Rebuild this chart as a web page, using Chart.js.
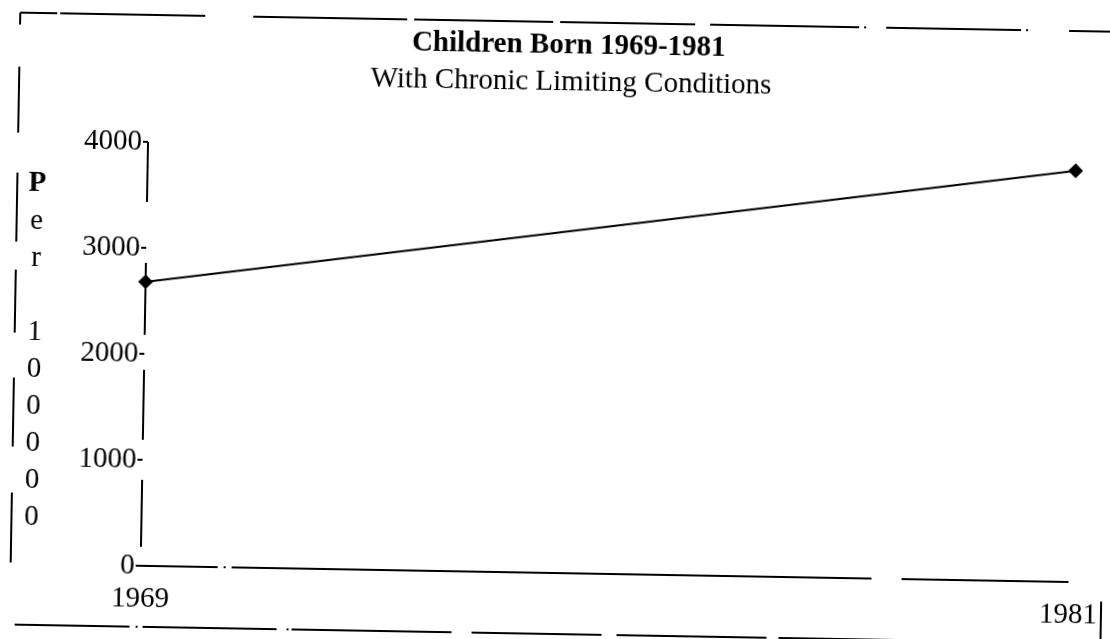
<!DOCTYPE html>
<html>
<head>
<meta charset="utf-8">
<title>Children Born 1969-1981</title>
<script src="https://cdn.jsdelivr.net/npm/chart.js@4.4.1/dist/chart.umd.min.js"></script>
<style>
    html, body { margin: 0; padding: 0; background: #fff; overflow: hidden; }
    #mycanvas { display: block; transform: rotate(1deg); transform-origin: 50% 50%; }
</style>
</head>
<body>
<canvas id="mycanvas" width="1110" height="639"></canvas>
<script>
let years = ["1969", "1981"];
let perHundredThousand = [2680, 3880];
let yTicks = [0, 1000, 2000, 3000, 4000];

let titleText = "Children Born 1969-1981";
let subtitleText = "With Chronic Limiting Conditions";
let yLabel = "Per 100000";

let serif = "'Liberation Serif', 'Times New Roman', serif";

function seg(ctx, x1, y1, x2, y2, dash) {
    ctx.setLineDash(dash);
    ctx.beginPath();
    ctx.moveTo(x1, y1);
    ctx.lineTo(x2, y2);
    ctx.stroke();
}

// broken axis lines, drawn under the data line
let axesPlugin = {
    id: "brokenAxes",
    beforeDatasetsDraw: function(chart) {
        let ctx = chart.ctx;
        let a = chart.chartArea;
        ctx.save();
        ctx.strokeStyle = "#000";
        ctx.lineWidth = 2;
        seg(ctx, a.left, a.top, a.left, a.bottom, [60, 61, 72, 35, 70, 40, 67, 200]);
        seg(ctx, a.left, a.bottom, a.right, a.bottom, [77, 6, 2, 6, 640, 30, 400]);
        ctx.restore();
    }
};

// page frame, headings and the stacked y label
let framePlugin = {
    id: "frame",
    afterDraw: function(chart) {
        let ctx = chart.ctx;
        ctx.save();
        ctx.strokeStyle = "#000";
        ctx.lineWidth = 2;
        seg(ctx, 15, 22, 1110, 22, [37, 3, 145, 48, 154, 7, 139, 7, 135, 15, 149, 5, 2, 20, 135, 5, 2, 41, 400]);
        seg(ctx, 15, 22, 15, 634, [12, 42, 66, 40, 69, 28, 63, 45, 69, 46, 70, 1000]);
        seg(ctx, 20, 634, 1110, 634, [115, 6, 2, 5, 134, 10, 2, 3, 160, 20, 130, 15, 150, 12, 140, 30, 200]);
        seg(ctx, 1106, 592, 1106, 634, []);
        ctx.setLineDash([]);

        ctx.fillStyle = "#000";
        ctx.textAlign = "center";
        ctx.textBaseline = "middle";
        ctx.font = "bold 29px " + serif;
        ctx.fillText(titleText, 564, 46);
        ctx.font = "29px " + serif;
        ctx.fillText(subtitleText, 567, 82);

        let y = 193;
        for (let i = 0; i < yLabel.length; i++) {
            let ch = yLabel[i];
            if (ch !== " ") {
                ctx.font = (i === 0 ? "bold " : "") + "29px " + serif;
                ctx.fillText(ch, 35, y);
            }
            y += 37;
        }
        ctx.restore();
    }
};

let chartdata = {
    labels: years,
    datasets: [
        {
            label: yLabel,
            data: perHundredThousand,
            fill: false,
            lineTension: 0,
            borderColor: "#000",
            borderWidth: 2,
            backgroundColor: "#000",
            pointStyle: "rectRot",
            pointRadius: 6,
            pointHoverRadius: 6,
            clip: false
        }
    ]
};

let ctx = document.getElementById("mycanvas");

let LineGraph = new Chart(ctx, {
    type: "line",
    data: chartdata,
    plugins: [axesPlugin, framePlugin],
    options: {
        responsive: false,
        animation: false,
        events: [],
        layout: { padding: { left: 0, right: 37, top: 149, bottom: 0 } },
        plugins: {
            legend: { display: false },
            title: { display: false },
            tooltip: { enabled: false }
        },
        scales: {
            x: {
                offset: false,
                afterFit: function(scale) { scale.height = 66; },
                grid: { display: false },
                border: { display: false },
                ticks: {
                    color: "#000",
                    padding: 8,
                    maxRotation: 0,
                    autoSkip: false,
                    font: { family: serif, size: 29 }
                }
            },
            y: {
                min: 0,
                max: 4000,
                afterFit: function(scale) { scale.width = 145; },
                afterBuildTicks: function(scale) {
                    scale.ticks = yTicks.map(function(v) { return { value: v }; });
                },
                grid: {
                    drawOnChartArea: false,
                    drawTicks: true,
                    tickLength: 5,
                    color: "#000",
                    lineWidth: 2
                },
                border: { display: false },
                ticks: {
                    color: "#000",
                    padding: 1,
                    font: { family: serif, size: 29 },
                    callback: function(value) { return String(value); }
                }
            }
        }
    }
});
</script>
</body>
</html>
